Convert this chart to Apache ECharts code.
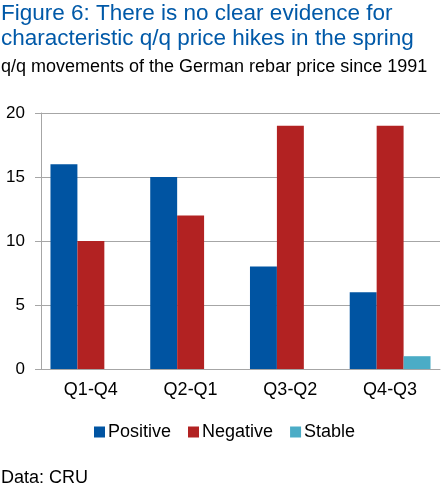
<!DOCTYPE html>
<html>
<head>
<meta charset="utf-8">
<script src="https://cdn.jsdelivr.net/npm/echarts@6/dist/echarts.min.js"></script>
<style>
  html, body { margin: 0; padding: 0; background: #fff; }
  #chart { width: 441px; height: 488px; }
</style>
</head>
<body>
<div id="chart"></div>
<script>
var categories = ['Q1-Q4', 'Q2-Q1', 'Q3-Q2', 'Q4-Q3'];
var positive = [16, 15, 8, 6];
var negative = [10, 12, 19, 19];
var stable = [0, 0, 0, 1];
var yTicks = { min: 0, max: 20, interval: 5 };

var font = 'Liberation Sans, Arial, sans-serif';
var myChart = echarts.init(document.getElementById('chart'));
var option = {
    animation: false,
    textStyle: { fontFamily: font },
    title: [
        {
            text: 'Figure 6: There is no clear evidence for\ncharacteristic q/q price hikes in the spring',
            left: -4,
            top: -4,
            textStyle: { color: '#0059A8', fontSize: 22.5, fontWeight: 'normal', lineHeight: 25, fontFamily: font }
        },
        {
            text: 'q/q movements of the German rebar price since 1991',
            left: -4,
            top: 53,
            textStyle: { color: '#000', fontSize: 18, fontWeight: 'normal', fontFamily: font }
        },
        {
            text: 'Data: CRU',
            left: -4,
            top: 464,
            textStyle: { color: '#000', fontSize: 18, fontWeight: 'normal', fontFamily: font }
        }
    ],
    legend: {
        data: ['Positive', 'Negative', 'Stable'],
        left: 89,
        top: 418,
        icon: 'rect',
        itemWidth: 11,
        itemHeight: 11,
        itemGap: 17,
        textStyle: { color: '#000', fontSize: 18, fontFamily: font, padding: [0, 0, 0, -2] }
    },
    grid: { left: 41, right: 1, top: 113, bottom: 119 },
    xAxis: {
        type: 'category',
        data: categories,
        axisLine: { lineStyle: { color: '#A6A6A6' } },
        axisTick: { length: 5, lineStyle: { color: '#A6A6A6' } },
        axisLabel: { color: '#000', fontSize: 18, margin: 12, fontFamily: font }
    },
    yAxis: {
        type: 'value',
        min: yTicks.min,
        max: yTicks.max,
        interval: yTicks.interval,
        axisLine: { show: true, lineStyle: { color: '#A6A6A6' } },
        axisTick: { show: true, length: 6, lineStyle: { color: '#A6A6A6' } },
        splitLine: { lineStyle: { color: '#A6A6A6' } },
        axisLabel: { color: '#000', fontSize: 17, margin: 16, fontFamily: font }
    },
    series: [
        {
            name: 'Positive',
            type: 'bar',
            data: positive,
            barGap: 0,
            barCategoryGap: '19%',
            itemStyle: { color: '#0054A2' }
        },
        {
            name: 'Negative',
            type: 'bar',
            data: negative,
            itemStyle: { color: '#B22222' }
        },
        {
            name: 'Stable',
            type: 'bar',
            data: stable,
            itemStyle: { color: '#4BACC6' }
        }
    ]
};
myChart.setOption(option);
</script>
</body>
</html>
